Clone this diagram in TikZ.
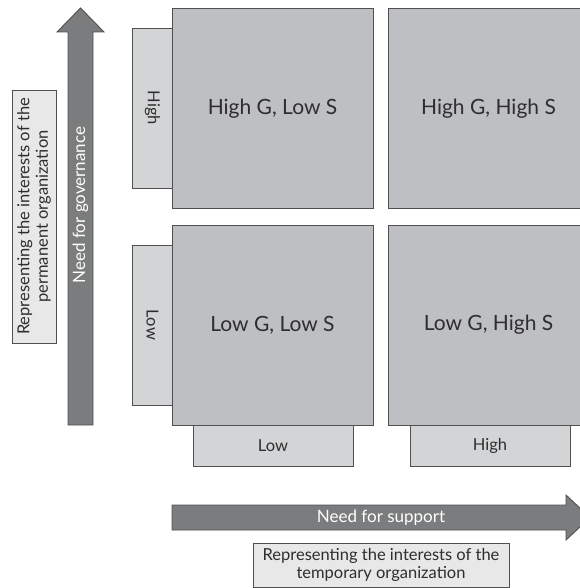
\documentclass[tikz,border=0pt]{standalone}
\usepackage{fontspec}
\setmainfont{Lato}

\definecolor{quadgray}{HTML}{BEBFC2}
\definecolor{labelgray}{HTML}{D3D4D6}
\definecolor{arrowgray}{HTML}{7B7C7E}
\definecolor{boxgray}{HTML}{E8E8E8}
\definecolor{edgegray}{HTML}{505050}
\definecolor{textgray}{HTML}{2E2E2E}

\begin{document}
\begin{tikzpicture}[x=1pt,y=-1pt,
    quad/.style={draw=edgegray,fill=quadgray,line width=0.9pt,inner sep=0pt,
      minimum width=201pt,minimum height=200pt,text=textgray,
      font=\fontsize{21}{24}\selectfont},
    level/.style={draw=edgegray,fill=labelgray,line width=0.9pt,inner sep=0pt,
      minimum width=160pt,minimum height=40pt,text=textgray,
      font=\fontsize{16.5}{19}\selectfont},
    note/.style={draw=edgegray,fill=boxgray,line width=0.8pt,inner sep=0pt,
      align=center,text=textgray,font=\fontsize{16.5}{18.5}\selectfont},
    bigarrow/.style={draw=edgegray,fill=arrowgray,line width=0.9pt},
    arrowtext/.style={text=white,font=\fontsize{17}{19}\selectfont}]
  \useasboundingbox (0,0) rectangle (579,588);

  % arrows
  \coordinate (gbase) at (80.5,425);
  \coordinate (gtip)  at (80.5,8);
  \coordinate (sbase) at (172,517.5);
  \coordinate (stip)  at (590,517.5);
  \draw[bigarrow] (68,425) -- (93,425) -- (93,32) -- (104,32) -- (gtip)
    -- (57,32) -- (68,32) -- cycle;
  \draw[bigarrow] (172,505) -- (566,505) -- (566,495) -- (stip)
    -- (566,540) -- (566,530) -- (172,530) -- cycle;

  \node[arrowtext,rotate=90] (gov) at (80.5,205) {Need for governance};
  \node[arrowtext] (sup) at (381,517.5) {Need for support};

  % level boxes
  \node[level,rotate=-90] (ghigh) at (152.5,108) {High};
  \node[level,rotate=-90] (glow)  at (152.5,325) {Low};
  \node[level,minimum height=41pt] (slow)  at (273,445.5) {Low};
  \node[level,minimum height=41pt] (shigh) at (490,445.5) {High};

  % quadrants
  \node[quad] (hgls) at (272.5,108.5) {High G, Low S};
  \node[quad] (hghs) at (488.5,108.5) {High G, High S};
  \node[quad] (lgls) at (272.5,325) {Low G, Low S};
  \node[quad] (lghs) at (488.5,325) {Low G, High S};

  % notes
  \node[note,rotate=90,minimum width=253pt,minimum height=44pt] (perm) at (34,216.5)
    {Representing the interests of the\\permanent organization};
  \node[note,minimum width=256pt,minimum height=44pt] (temp) at (381,565)
    {Representing the interests of the\\temporary organization};
\end{tikzpicture}
\end{document}
